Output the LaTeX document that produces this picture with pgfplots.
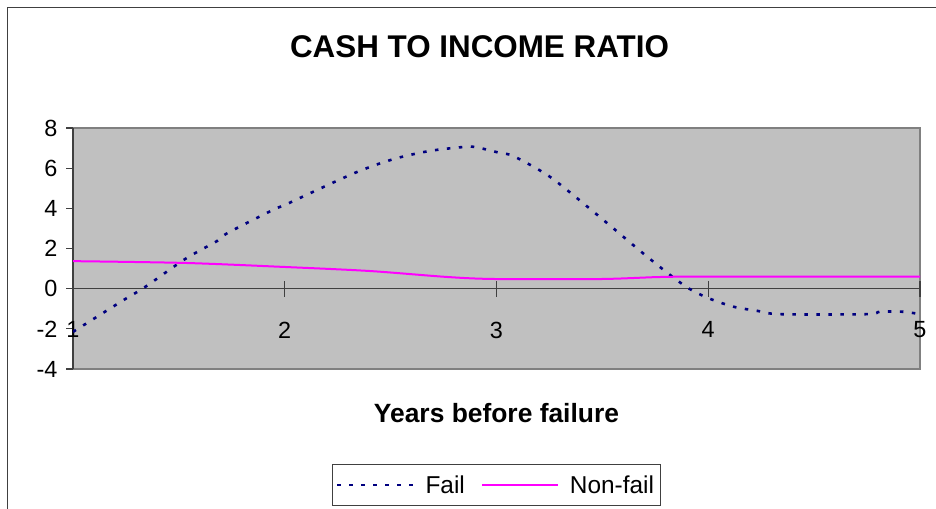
\documentclass[border=0pt]{standalone}
\usepackage{pgfplots}
\pgfplotsset{compat=1.18}
\usepackage{fontspec}
\setmainfont{Liberation Sans}

\definecolor{plotgray}{HTML}{C0C0C0}
\definecolor{framegray}{HTML}{808080}
\definecolor{failblue}{HTML}{000080}
\definecolor{nonfail}{HTML}{FF00FF}

\begin{document}
\begin{tikzpicture}
\useasboundingbox (0,0) rectangle (936bp,509bp);
% outer chart frame (cropped at right and bottom)
\draw[black!75, line width=1.2bp] (7.5bp,0bp) -- (7.5bp,501.5bp) -- (936bp,501.5bp);

\begin{axis}[
    at={(73bp,140bp)}, anchor=south west,
    scale only axis,
    width=847bp, height=241bp,
    xmin=1, xmax=5, ymin=-4, ymax=8,
    axis x line=middle, axis y line=left,
    axis line style={-, black!75, line width=1.2bp},
    axis background/.style={fill=plotgray, draw=framegray, line width=1.5bp},
    hide obscured x ticks=false, hide obscured y ticks=false,
    xtick={1,2,3,4,5}, minor xtick={1,2,3,4,5},
    ytick={-4,-2,0,2,4,6,8},
    major tick length=7bp, minor tick length=16bp,
    ytick align=outside, xtick align=center,
    major x tick style={draw=none},
    minor x tick style={black!75, line width=1.2bp},
    ytick style={black!75, line width=1.2bp},
    tick label style={font=\fontsize{23.5}{28}\selectfont},
    xticklabel style={yshift=-26bp},
    yticklabel style={xshift=-5bp},
    /pgf/number format/assume math mode=true,
    legend columns=2,
    legend style={at={(axis description cs:0.4994,-0.481)}, anchor=center,
        draw=black!75, fill=white, line width=0.8bp,
        font=\fontsize{24.5}{29}\selectfont,
        inner xsep=4bp, inner ysep=9bp,
        /tikz/every odd column/.append style={column sep=9bp},
        /tikz/every even column/.append style={column sep=14bp}},
    legend image code/.code={\draw[#1] (0bp,0bp) -- (76bp,0bp);},
]
\addplot[failblue, line width=2.6bp, dash pattern=on 3.5bp off 8.5bp, smooth, tension=0.5] coordinates {
    (1.00,-2.15) (1.24,-0.56) (1.34,0.08) (1.53,1.48) (1.68,2.37)
    (1.73,2.77) (1.94,3.90) (2.00,4.16) (2.06,4.46) (2.33,5.76)
    (2.51,6.44) (2.68,6.85) (2.84,7.05) (2.90,7.05) (3.02,6.75)
    (3.08,6.60) (3.24,5.66) (3.38,4.51) (3.55,3.02) (3.69,1.78)
    (3.82,0.68) (3.91,0.00) (4.00,-0.47) (4.12,-0.90) (4.23,-1.10)
    (4.34,-1.27) (4.75,-1.27) (4.81,-1.15) (4.92,-1.15) (5.00,-1.27)
};
\addlegendentry{Fail}
\addplot[nonfail, line width=2bp, smooth, tension=0.5] coordinates {
    (1.00,1.37) (1.53,1.28) (2.00,1.08) (2.40,0.88) (2.77,0.58)
    (3.00,0.48) (3.49,0.48) (3.77,0.58) (4.00,0.60) (5.00,0.60)
};
\addlegendentry{Non-fail}
\end{axis}

\node[anchor=base, font=\bfseries\fontsize{31.5}{36}\selectfont] at (479.5bp,451bp) {CASH TO INCOME RATIO};
\node[anchor=base, font=\bfseries\fontsize{26.5}{31}\selectfont] at (496.5bp,86bp) {Years before failure};
\end{tikzpicture}
\end{document}
